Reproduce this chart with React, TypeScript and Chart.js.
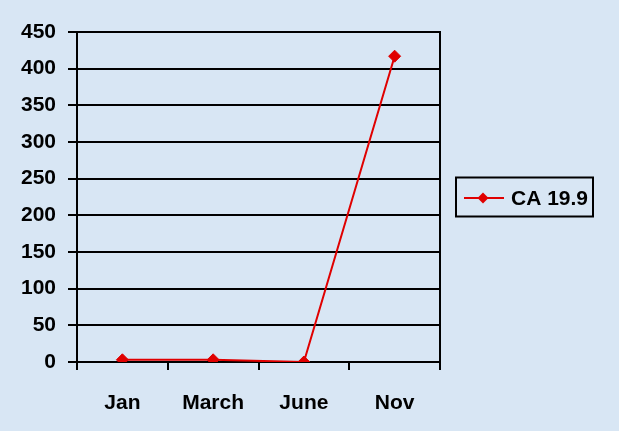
import React, { useEffect, useRef } from "react";
import { Chart, registerables } from "chart.js";

Chart.register(...registerables);

const categories = ["Jan", "March", "June", "Nov"];
const seriesLabel = "CA 19.9";
const seriesValues = [3, 3, 0, 417];
const yMin = 0;
const yMax = 450;
const yStep = 50;

const FONT_FAMILY = "'Liberation Sans', Arial, sans-serif";
const FONT_SIZE = 21;
const BG = "#d8e6f4";
const RED = "#e00000";

const bgPlugin = {
  id: "bgFill",
  beforeDraw(chart: any) {
    const { ctx, width, height } = chart;
    ctx.save();
    ctx.fillStyle = BG;
    ctx.fillRect(0, 0, width, height);
    ctx.restore();
  },
};

const rightBorderPlugin = {
  id: "rightBorder",
  beforeDatasetsDraw(chart: any) {
    const { ctx, chartArea } = chart;
    ctx.save();
    ctx.strokeStyle = "#000";
    ctx.lineWidth = 2;
    ctx.beginPath();
    ctx.moveTo(chartArea.right, chartArea.top - 1);
    ctx.lineTo(chartArea.right, chartArea.bottom);
    ctx.stroke();
    ctx.restore();
  },
};

const legendPlugin = {
  id: "boxLegend",
  afterDraw(chart: any) {
    const { ctx, chartArea } = chart;
    const ds = chart.data.datasets[0];
    const left = chartArea.right + 16;
    const midY = (chartArea.top + chartArea.bottom) / 2;
    const w = 137;
    const h = 39;
    const top = midY - h / 2;
    ctx.save();
    ctx.strokeStyle = "#000";
    ctx.lineWidth = 2;
    ctx.strokeRect(left, top, w, h);
    ctx.strokeStyle = ds.borderColor;
    ctx.lineWidth = 2;
    ctx.beginPath();
    ctx.moveTo(left + 8, midY + 1);
    ctx.lineTo(left + 48, midY + 1);
    ctx.stroke();
    const cx = left + 27;
    const cy = midY + 1;
    const r = 5.5;
    ctx.fillStyle = ds.pointBackgroundColor;
    ctx.beginPath();
    ctx.moveTo(cx, cy - r);
    ctx.lineTo(cx + r, cy);
    ctx.lineTo(cx, cy + r);
    ctx.lineTo(cx - r, cy);
    ctx.closePath();
    ctx.fill();
    ctx.fillStyle = "#000";
    ctx.font = `bold ${FONT_SIZE}px ${FONT_FAMILY}`;
    ctx.textBaseline = "middle";
    ctx.textAlign = "left";
    ctx.fillText(ds.label, left + 55, midY + 2);
    ctx.restore();
  },
};

export default function App() {
  const canvasRef = useRef<HTMLCanvasElement | null>(null);

  useEffect(() => {
    document.body.style.margin = "0";
    const canvas = canvasRef.current;
    if (!canvas) return;
    const tickFont = { family: FONT_FAMILY, size: FONT_SIZE, weight: "bold" as const };
    const chart = new Chart(canvas, {
      type: "line",
      data: {
        labels: categories,
        datasets: [
          {
            label: seriesLabel,
            data: seriesValues,
            borderColor: RED,
            backgroundColor: RED,
            pointBackgroundColor: RED,
            pointBorderColor: RED,
            pointStyle: "rectRot",
            pointRadius: 6,
            pointBorderWidth: 1,
            borderWidth: 2,
            tension: 0,
            fill: false,
          },
        ],
      },
      plugins: [bgPlugin, rightBorderPlugin, legendPlugin],
      options: {
        responsive: false,
        animation: false,
        layout: { padding: { left: 0, right: 179, top: 32, bottom: 0 } },
        plugins: {
          legend: { display: false },
          tooltip: { enabled: false },
          title: { display: false },
        },
        scales: {
          x: {
            type: "category",
            offset: true,
            grid: {
              display: true,
              offset: true,
              drawOnChartArea: false,
              drawTicks: true,
              tickLength: 8,
              color: "#000",
              lineWidth: 2,
            },
            border: { display: true, color: "#000", width: 2 },
            ticks: {
              color: "#000",
              font: tickFont,
              padding: 21,
              maxRotation: 0,
              autoSkip: false,
            },
            afterFit: (scale: any) => {
              scale.height = 69;
            },
          },
          y: {
            min: yMin,
            max: yMax,
            grid: {
              display: true,
              color: "#000",
              lineWidth: 2,
              tickLength: 9,
              drawTicks: true,
            },
            border: { display: true, color: "#000", width: 2 },
            ticks: {
              stepSize: yStep,
              color: "#000",
              font: tickFont,
              padding: 12,
            },
            afterFit: (scale: any) => {
              scale.width = 77;
            },
          },
        },
      },
    });
    return () => chart.destroy();
  }, []);

  return (
    <div style={{ width: 619, height: 431, background: BG }}>
      <canvas ref={canvasRef} width={619} height={431} style={{ display: "block" }} />
    </div>
  );
}
